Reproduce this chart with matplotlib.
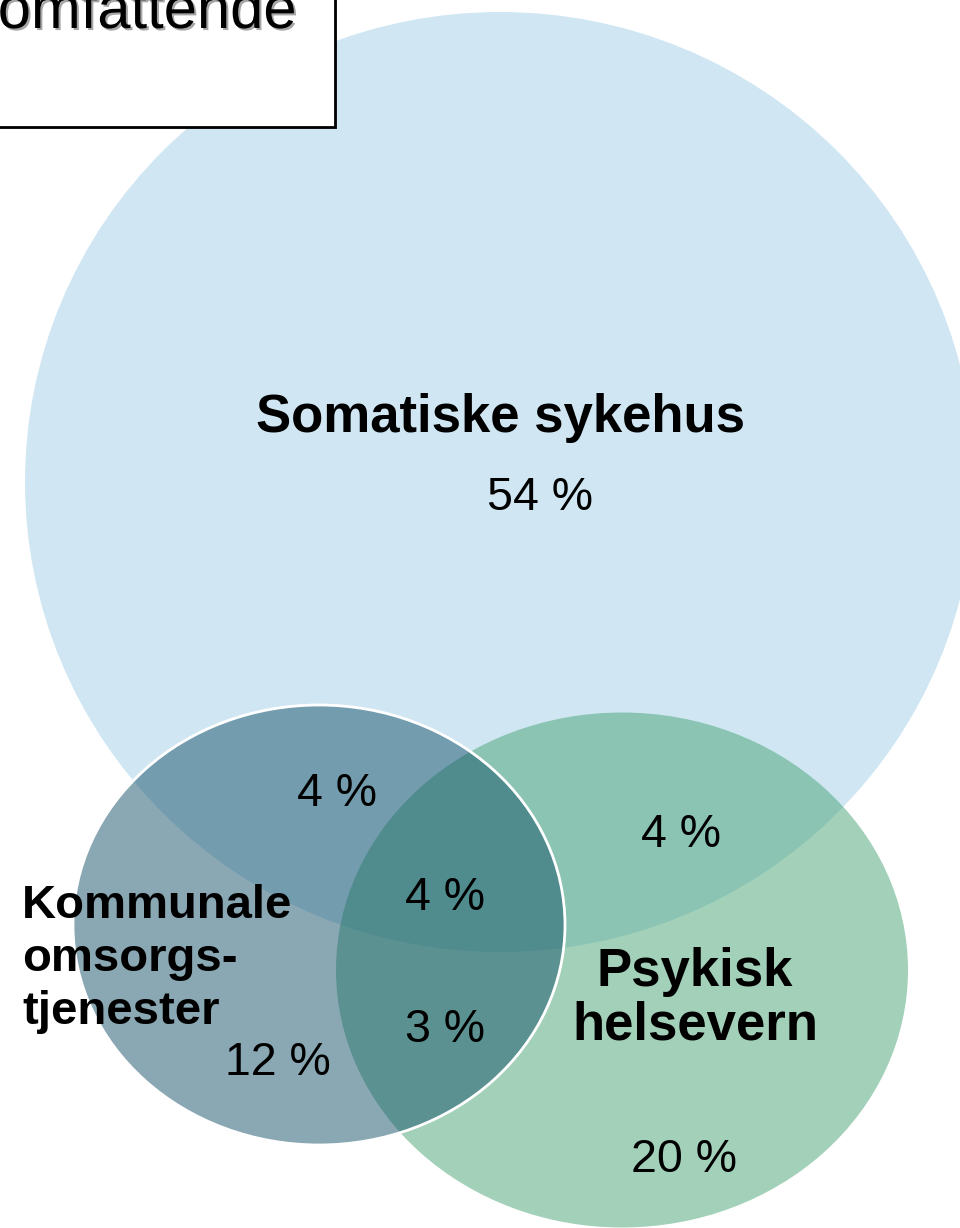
import matplotlib.pyplot as plt
import matplotlib.patheffects as pe
from matplotlib.patches import Ellipse, Rectangle

plt.rcParams['font.family'] = ['Liberation Sans', 'DejaVu Sans']

# Sets of the Venn diagram
set_names = ['Somatiske sykehus', 'Kommunale\nomsorgs-\ntjenester', 'Psykisk\nhelsevern']
set_colors = ['#D0E7F3', '#17536B', '#47A375']

# Region shares (percent)
region_names = ['Somatisk', 'Somatisk+Kommunal', 'Alle tre', 'Kommunal+Psykisk',
                'Kommunal', 'Somatisk+Psykisk', 'Psykisk']
region_values = [54, 4, 4, 3, 12, 4, 20]

box_text = 'omfattende'

# layout in pixel coordinates (x, y from top)
circle_xy = [(500, 482), (319, 925), (622, 970)]
circle_wh = [(950, 940), (492, 440), (572, 515)]
region_xy = [(540, 510), (337, 806), (445, 910), (445, 1042), (278, 1075), (681, 847), (684, 1172)]

fig = plt.figure(figsize=(9.6, 12.28), dpi=100)
ax = fig.add_axes([0, 0, 1, 1])
ax.set_xlim(0, 960)
ax.set_ylim(1228, 0)
ax.axis('off')

# big circle
ax.add_patch(Ellipse(circle_xy[0], *circle_wh[0], facecolor=set_colors[0], edgecolor='none', zorder=1))
# psykisk
ax.add_patch(Ellipse(circle_xy[2], *circle_wh[2], facecolor=set_colors[2], alpha=0.5, edgecolor='none', zorder=2))
# kommunale
ax.add_patch(Ellipse(circle_xy[1], *circle_wh[1], facecolor=set_colors[1], alpha=0.5, edgecolor='none', zorder=3))
ax.add_patch(Ellipse(circle_xy[1], *circle_wh[1], fill=False, edgecolor='white', lw=2, zorder=4))

# set labels (baseline = last line)
ax.text(500, 432, set_names[0], ha='center', va='baseline', fontsize=38, fontweight='bold', zorder=5)
ax.text(22, 1024, set_names[1], ha='left', va='baseline', fontsize=34, fontweight='bold',
        linespacing=1.27, zorder=5)
ax.text(695, 1040, set_names[2], ha='center', va='baseline', fontsize=38, fontweight='bold',
        linespacing=1.1, multialignment='center', zorder=5)

for (x, y), v in zip(region_xy, region_values):
    ax.text(x, y, f'{v} %', ha='center', va='baseline', fontsize=33.5, zorder=5)

# partly visible text box at top left
ax.add_patch(Rectangle((-20, -20), 355, 147, facecolor='white', edgecolor='black', lw=2, zorder=6,
                       path_effects=[pe.SimplePatchShadow(offset=(1.5, -1.5), alpha=0.4), pe.Normal()]))
ax.text(297, 28, box_text, ha='right', va='baseline', fontsize=43, zorder=7,
        path_effects=[pe.withSimplePatchShadow(offset=(1.5, -1.5), alpha=0.35)])

fig.savefig('out.png', dpi=100)
